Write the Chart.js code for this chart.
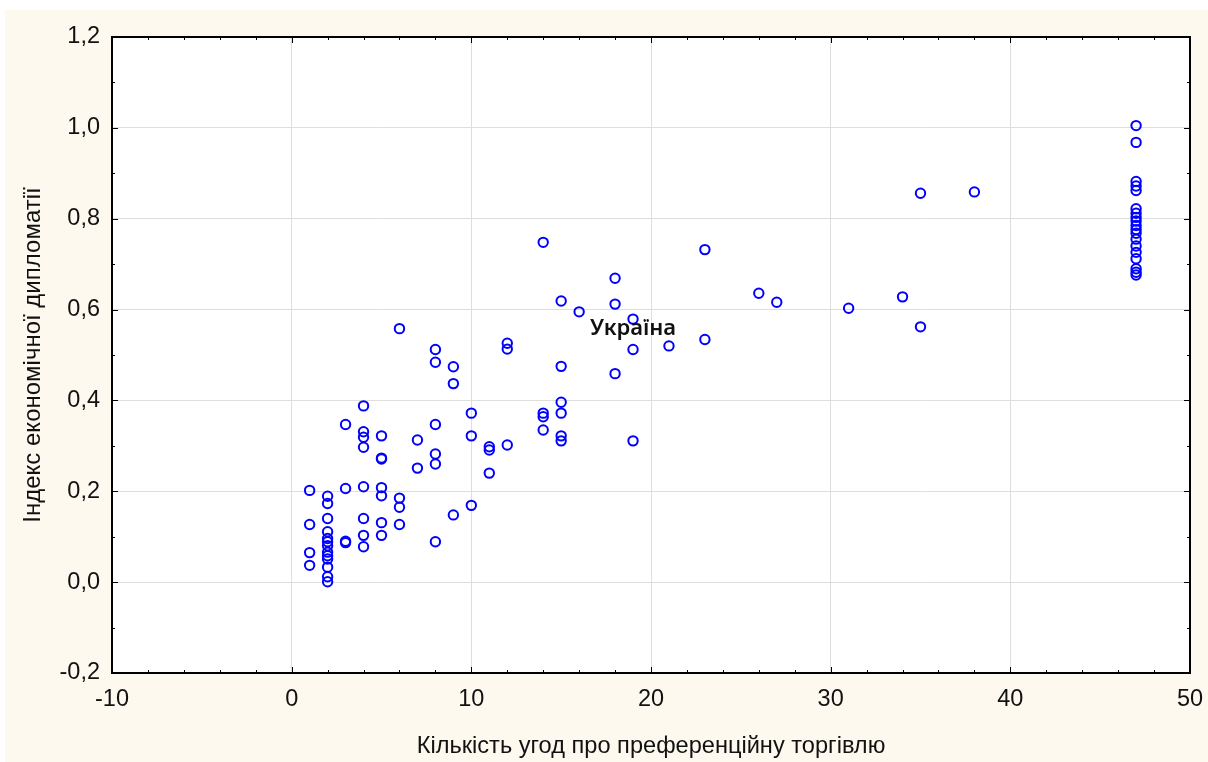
<!DOCTYPE html>
<html>
<head>
<meta charset="utf-8">
<script src="https://cdn.jsdelivr.net/npm/chart.js@4.4.1/dist/chart.umd.min.js"></script>
<style>
  html, body { margin: 0; padding: 0; background: #ffffff; }
  canvas { display: block; }
</style>
</head>
<body>
<canvas id="chart" width="1208" height="762"></canvas>
<script>
// number of preferential trade agreements per country
const agreements = [
    1, 1, 1, 1,
    2, 2, 2, 2, 2, 2, 2, 2, 2, 2, 2, 2, 2,
    3, 3, 3, 3,
    4, 4, 4, 4, 4, 4, 4, 4,
    5, 5, 5, 5, 5, 5, 5,
    6, 6, 6, 6,
    7, 7,
    8, 8, 8, 8, 8, 8,
    9, 9, 9,
    10, 10, 10,
    11, 11, 11,
    12, 12, 12,
    14, 14, 14, 14,
    15, 15, 15, 15, 15, 15,
    16,
    18, 18, 18,
    19, 19, 19,
    21,
    23, 23,
    26, 27, 31, 34,
    35, 35,
    38,
    47, 47, 47, 47, 47, 47, 47, 47, 47, 47, 47, 47, 47, 47, 47, 47, 47, 47, 47
];

// economic diplomacy index, same order
const diplomacyIndex = [
    0.202, 0.127, 0.065, 0.037,
    0.189, 0.173, 0.140, 0.111, 0.096, 0.089, 0.080, 0.066, 0.058, 0.051, 0.033, 0.012, 0.001,
    0.347, 0.206, 0.090, 0.087,
    0.388, 0.331, 0.319, 0.297, 0.210, 0.140, 0.103, 0.078,
    0.322, 0.273, 0.271, 0.208, 0.190, 0.131, 0.103,
    0.558, 0.185, 0.165, 0.127,
    0.313, 0.251,
    0.512, 0.484, 0.347, 0.282, 0.260, 0.089,
    0.474, 0.437, 0.148,
    0.372, 0.322, 0.169,
    0.298, 0.291, 0.240,
    0.526, 0.513, 0.302,
    0.748, 0.372, 0.364, 0.335,
    0.619, 0.475, 0.396, 0.372, 0.322, 0.311,
    0.595,
    0.669, 0.612, 0.459,
    0.579, 0.512, 0.311,
    0.520,
    0.732, 0.534,
    0.636, 0.616, 0.603, 0.628,
    0.856, 0.562,
    0.859,
    1.005, 0.968, 0.882, 0.872, 0.862, 0.822, 0.812, 0.803, 0.795, 0.785,
    0.776, 0.768, 0.755, 0.740, 0.726, 0.712, 0.690, 0.682, 0.676
];

const highlightName = 'Україна';
const highlightPoint = { x: 19, y: 0.579 };

const xTitle = 'Кількість угод про преференційну торгівлю';
const yTitle = 'Індекс економічної дипломатії';

const points = agreements.map((a, i) => ({ x: a, y: diplomacyIndex[i] }));

const frame = {
    id: 'frame',
    beforeDraw(chart) {
        const { ctx, chartArea: a } = chart;
        ctx.save();
        ctx.fillStyle = '#fdf9ef';
        ctx.fillRect(5, 10, chart.width - 5, chart.height - 10);
        ctx.fillStyle = '#ffffff';
        ctx.fillRect(a.left, a.top, a.right - a.left, a.bottom - a.top);
        ctx.restore();
    },
    afterDraw(chart) {
        const { ctx, chartArea: a, scales } = chart;
        ctx.save();
        ctx.strokeStyle = '#000000';
        ctx.lineWidth = 1;
        // inward tick marks on all four sides
        ctx.beginPath();
        for (let v = -10; v <= 50; v += 2) {
            const px = Math.round(scales.x.getPixelForValue(v)) + 0.5;
            const len = v % 10 === 0 ? 6 : 3;
            ctx.moveTo(px, a.bottom); ctx.lineTo(px, a.bottom - len);
            ctx.moveTo(px, a.top); ctx.lineTo(px, a.top + len);
        }
        for (let k = -2; k <= 12; k++) {
            const py = Math.round(scales.y.getPixelForValue(k / 10)) + 0.5;
            const len = k % 2 === 0 ? 6 : 3;
            ctx.moveTo(a.left, py); ctx.lineTo(a.left + len, py);
            ctx.moveTo(a.right, py); ctx.lineTo(a.right - len, py);
        }
        ctx.stroke();
        ctx.lineWidth = 2;
        ctx.strokeRect(a.left, a.top, a.right - a.left, a.bottom - a.top);

        // label for Ukraine
        ctx.font = '600 22px "Noto Sans", sans-serif';
        ctx.fillStyle = '#111111';
        ctx.textAlign = 'center';
        ctx.textBaseline = 'middle';
        ctx.fillText(highlightName,
            scales.x.getPixelForValue(highlightPoint.x),
            scales.y.getPixelForValue(highlightPoint.y) + 10);
        ctx.restore();
    }
};

Chart.defaults.font.family = '"Liberation Sans", Arial, sans-serif';
Chart.defaults.color = '#111111';

new Chart(document.getElementById('chart'), {
    type: 'scatter',
    data: {
        datasets: [{
            data: points,
            pointStyle: 'circle',
            pointRadius: 4.7,
            pointHoverRadius: 4.7,
            borderColor: '#0000ff',
            backgroundColor: 'rgba(0,0,0,0)',
            pointBorderWidth: 2
        }]
    },
    options: {
        responsive: false,
        animation: false,
        events: [],
        layout: {
            padding: { top: 37, right: 18, left: 0, bottom: 0 }
        },
        plugins: {
            legend: { display: false },
            tooltip: { enabled: false }
        },
        scales: {
            x: {
                type: 'linear',
                min: -10,
                max: 50,
                afterFit: (scale) => {
                    scale.height = 89;
                    scale.paddingLeft = 0;
                    scale.paddingRight = 0;
                },
                ticks: {
                    stepSize: 10,
                    padding: 12.6,
                    font: { size: 23.5 },
                    color: '#111111'
                },
                grid: {
                    color: '#dedede',
                    drawTicks: false
                },
                border: { display: false },
                title: {
                    display: true,
                    text: xTitle,
                    font: { size: 23.6 },
                    color: '#111111',
                    padding: { top: 0, bottom: 1.8 }
                }
            },
            y: {
                type: 'linear',
                min: -0.2,
                max: 1.2,
                afterFit: (scale) => {
                    scale.width = 112;
                    scale.paddingTop = 0;
                    scale.paddingBottom = 0;
                },
                ticks: {
                    stepSize: 0.2,
                    padding: 12,
                    font: { size: 23.5 },
                    color: '#111111',
                    callback: (v) => (Math.abs(v) < 1e-9 ? 0 : v).toFixed(1).replace('.', ',')
                },
                grid: {
                    color: '#dedede',
                    drawTicks: false
                },
                border: { display: false },
                title: {
                    display: true,
                    text: yTitle,
                    font: { size: 24 },
                    color: '#111111',
                    padding: { top: 18.6, bottom: 0 }
                }
            }
        }
    },
    plugins: [frame]
});
</script>
</body>
</html>
